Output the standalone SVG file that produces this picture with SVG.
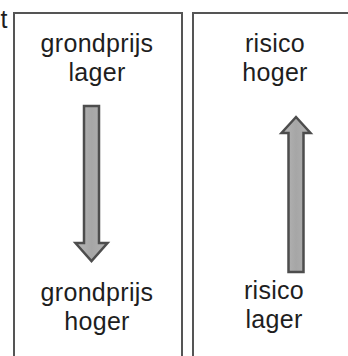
<svg xmlns="http://www.w3.org/2000/svg" width="348" height="356" viewBox="0 0 348 356">
  <defs>
    <linearGradient id="shaftFill" x1="0" y1="0" x2="1" y2="0">
      <stop offset="0" stop-color="#b8b8b8"/>
      <stop offset="0.5" stop-color="#a6a6a6"/>
      <stop offset="1" stop-color="#b2b2b2"/>
    </linearGradient>
  </defs>
  <style>
    .panel { fill: #ffffff; stroke: #555555; stroke-width: 2; }
    .label { font-family: "Liberation Sans", Arial, sans-serif; font-size: 25px; letter-spacing: 0.3px; fill: #1e1e1e; text-anchor: middle; }
    .arrow { fill: url(#shaftFill); stroke: #4d4d4d; stroke-width: 2.5; stroke-linejoin: miter; }
  </style>
  <rect width="348" height="356" fill="#ffffff"/>

  <text class="label" x="4" y="28">t</text>

  <g id="panel-grondprijs">
    <rect class="panel" x="14" y="13" width="168" height="360"/>
    <text class="label" x="97" y="52">grondprijs</text>
    <text class="label" x="97" y="81">lager</text>
    <text class="label" x="97" y="301">grondprijs</text>
    <text class="label" x="97" y="330">hoger</text>
  </g>

  <g id="panel-risico">
    <rect class="panel" x="193" y="13" width="170" height="360"/>
    <text class="label" x="275" y="52">risico</text>
    <text class="label" x="275" y="81">hoger</text>
    <text class="label" x="274" y="299">risico</text>
    <text class="label" x="274" y="328">lager</text>
  </g>

  <g id="connectors">
    <!-- downward arrow: price lower to price higher -->
    <path class="arrow" d="M84,106 H99 V243 H107.5 L91.5,261 L75.5,243 H84 Z"/>
    <!-- upward arrow: risk lower to risk higher -->
    <path class="arrow" d="M288.5,272 V133 H281.5 L296,117 L310.5,133 H303.5 V272 Z"/>
  </g>
</svg>
